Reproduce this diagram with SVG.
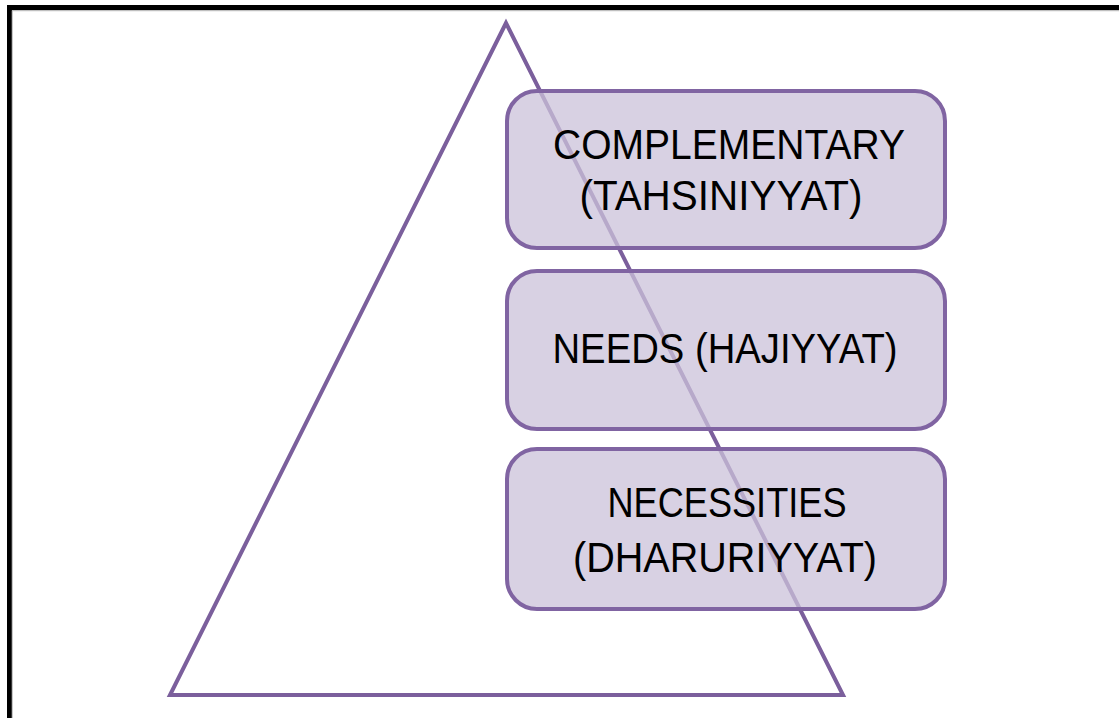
<svg xmlns="http://www.w3.org/2000/svg" width="1119" height="718" viewBox="0 0 1119 718">
<style>
.box{fill:#CBC1DA;fill-opacity:0.75;stroke:#8064A2;stroke-width:4}
.lbl{font-family:"Liberation Sans",Arial,sans-serif;font-size:43px;fill:#000;text-anchor:middle}
</style>
<rect x="0" y="0" width="1119" height="718" fill="#fff"/>
<rect x="9.5" y="7.5" width="1130" height="730" fill="none" stroke="#000" stroke-width="5"/>
<line x1="12" y1="10.7" x2="1119" y2="10.7" stroke="#b0b0b0" stroke-width="1"/>
<line x1="12.2" y1="10.5" x2="12.2" y2="718" stroke="#b0b0b0" stroke-width="1"/>
<g id="pyramid">
<polygon points="506,23 170,695 843,695" fill="none" stroke="#7B5F9C" stroke-width="4" stroke-linejoin="miter"/>
</g>
<g id="connectors"></g>
<g id="complementary">
<rect class="box" x="507" y="91" width="438" height="157" rx="30" ry="30"/>
<text class="lbl" x="729" y="159" textLength="352" lengthAdjust="spacingAndGlyphs">COMPLEMENTARY</text>
<text class="lbl" x="721" y="210" textLength="283" lengthAdjust="spacingAndGlyphs">(TAHSINIYYAT)</text>
</g>
<g id="needs">
<rect class="box" x="507" y="271" width="438" height="158" rx="30" ry="30"/>
<text class="lbl" x="725" y="363" textLength="345" lengthAdjust="spacingAndGlyphs">NEEDS (HAJIYYAT)</text>
</g>
<g id="necessities">
<rect class="box" x="507" y="449" width="438" height="160" rx="30" ry="30"/>
<text class="lbl" x="727" y="517" textLength="239" lengthAdjust="spacingAndGlyphs">NECESSITIES</text>
<text class="lbl" x="725" y="572" textLength="304" lengthAdjust="spacingAndGlyphs">(DHARURIYYAT)</text>
</g>
</svg>
